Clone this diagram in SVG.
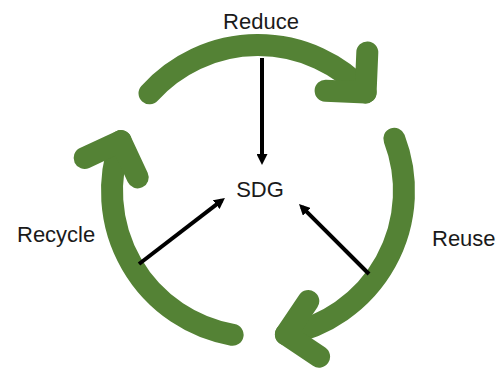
<svg xmlns="http://www.w3.org/2000/svg" width="503" height="368" viewBox="0 0 503 368">
  <style>
    .cycle { fill: none; stroke: #548235; stroke-width: 22; stroke-linecap: round; stroke-linejoin: round; }
    .link { fill: none; stroke: #000000; stroke-width: 4; stroke-linecap: butt; }
    .label { font-family: "Liberation Sans", Arial, sans-serif; font-size: 22px; fill: #1a1a1a; }
  </style>
  <defs>
    <marker id="head" viewBox="0 0 10 10" refX="6.4" refY="5" markerWidth="2.75" markerHeight="2.75" orient="auto" markerUnits="strokeWidth">
      <path d="M0,0 L10,5 L0,10 z" fill="#000000"/>
    </marker>
  </defs>
  <rect width="503" height="368" fill="#ffffff"/>

  <!-- clockwise cycle arcs, each ending in an open chevron head -->
  <g id="reduce">
    <path class="cycle" d="M149.5,93.3 A146,146 0 0 1 365.6,92.4"/>
    <path class="cycle" d="M367.3,52.4 L365.6,92.4 L325.6,90.7"/>
    <text class="label" x="261" y="29" text-anchor="middle">Reduce</text>
  </g>
  <g id="reuse">
    <path class="cycle" d="M394.3,138.7 A146,146 0 0 1 285.9,334.3"/>
    <path class="cycle" d="M308.3,301.1 L285.9,334.3 L319.1,356.7"/>
    <text class="label" x="432" y="246">Reuse</text>
  </g>
  <g id="recycle">
    <path class="cycle" d="M232.6,334.8 A146,146 0 0 1 120.8,141.1"/>
    <path class="cycle" d="M84.6,158 L120.8,141.1 L137.7,177.4"/>
    <text class="label" x="17" y="242">Recycle</text>
  </g>
  <g id="sdg">
    <text class="label" x="260" y="197" text-anchor="middle">SDG</text>
  </g>

  <!-- links pointing into the centre -->
  <g id="connectors">
    <line class="link" x1="262" y1="58" x2="262" y2="161" marker-end="url(#head)"/>
    <line class="link" x1="369" y1="274" x2="301.8" y2="206.8" marker-end="url(#head)"/>
    <line class="link" x1="139" y1="264" x2="221.8" y2="200.4" marker-end="url(#head)"/>
  </g>
</svg>
